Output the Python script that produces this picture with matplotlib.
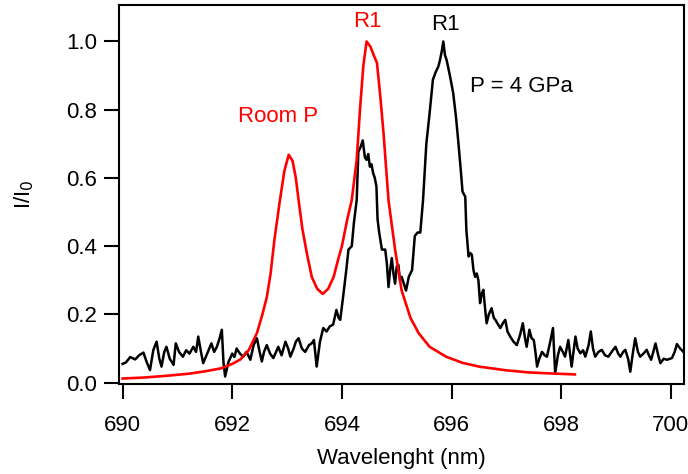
# Ruby fluorescence: room pressure vs 4 GPa

import matplotlib
matplotlib.use('Agg')
import matplotlib.pyplot as plt

plt.rcParams['font.family'] = ['Liberation Sans', 'DejaVu Sans']

# Room P spectrum (red)
room_wl = [690.0, 690.4, 690.8, 691.2, 691.5, 691.8, 692.0, 692.15, 692.3, 692.45,
           692.55, 692.63, 692.7, 692.77, 692.87, 692.95, 693.03, 693.1, 693.16, 693.21,
           693.28, 693.36, 693.45, 693.55, 693.65, 693.75, 693.85, 693.93, 694.0, 694.1,
           694.18, 694.27, 694.33, 694.39, 694.45, 694.52, 694.58, 694.64, 694.7, 694.76,
           694.85, 694.97, 695.09, 695.25, 695.4, 695.6, 695.9, 696.2, 696.5, 697.0,
           697.4, 697.8, 698.25]
room_int = [0.012, 0.015, 0.02, 0.026, 0.033, 0.042, 0.055, 0.068, 0.095, 0.145,
            0.2, 0.25, 0.32, 0.42, 0.535, 0.62, 0.668, 0.65, 0.6, 0.535,
            0.45, 0.38, 0.31, 0.275, 0.26, 0.275, 0.31, 0.36, 0.40, 0.48,
            0.535, 0.653, 0.80, 0.927, 1.0, 0.985, 0.96, 0.937, 0.84, 0.73,
            0.535, 0.39, 0.27, 0.19, 0.145, 0.105, 0.076, 0.058, 0.047, 0.036,
            0.03, 0.027, 0.024]

# 4 GPa spectrum (black)
hp_wl = [690.0, 690.06, 690.14, 690.23, 690.3, 690.38, 690.44, 690.5, 690.56, 690.62,
         690.67, 690.71, 690.76, 690.8, 690.86, 690.93, 690.97, 691.03, 691.1, 691.16,
         691.22, 691.29, 691.34, 691.38, 691.43, 691.47, 691.53, 691.58, 691.62, 691.67,
         691.72, 691.77, 691.81, 691.84, 691.87, 691.93, 692.0, 692.04, 692.08, 692.14,
         692.2, 692.26, 692.33, 692.39, 692.45, 692.5, 692.54, 692.58, 692.63, 692.69,
         692.75, 692.8, 692.84, 692.9, 692.97, 693.02, 693.06, 693.12, 693.16, 693.21,
         693.27, 693.33, 693.4, 693.45, 693.49, 693.52, 693.54, 693.6, 693.66, 693.72,
         693.78, 693.84, 693.9, 693.94, 693.97, 694.03, 694.08, 694.12, 694.18, 694.22,
         694.27, 694.3, 694.34, 694.38, 694.42, 694.45, 694.48, 694.51, 694.54, 694.57,
         694.6, 694.63, 694.65, 694.68, 694.73, 694.79, 694.82, 694.85, 694.88, 694.91,
         694.94, 694.97, 695.0, 695.03, 695.06, 695.09, 695.13, 695.17, 695.22, 695.28,
         695.33, 695.38, 695.43, 695.48, 695.54, 695.6, 695.66, 695.71, 695.76, 695.79,
         695.82, 695.85, 695.88, 695.91, 695.97, 696.03, 696.08, 696.12, 696.17, 696.2,
         696.25, 696.27, 696.31, 696.34, 696.37, 696.4, 696.43, 696.46, 696.49, 696.52,
         696.55, 696.58, 696.61, 696.64, 696.68, 696.73, 696.77, 696.8, 696.85, 696.89,
         696.94, 696.98, 697.02, 697.07, 697.13, 697.19, 697.25, 697.3, 697.34, 697.37,
         697.42, 697.46, 697.5, 697.53, 697.56, 697.6, 697.65, 697.7, 697.74, 697.8,
         697.85, 697.89, 697.94, 697.98, 698.03, 698.07, 698.13, 698.19, 698.26, 698.3,
         698.35, 698.4, 698.44, 698.5, 698.54, 698.58, 698.62, 698.68, 698.74, 698.8,
         698.86, 698.92, 698.99, 699.04, 699.08, 699.13, 699.17, 699.22, 699.26, 699.31,
         699.35, 699.4, 699.44, 699.5, 699.56, 699.6, 699.64, 699.68, 699.72, 699.77,
         699.81, 699.87, 699.93, 700.02, 700.07, 700.11, 700.17, 700.23]
hp_int = [0.055, 0.059, 0.075, 0.068, 0.08, 0.088, 0.06, 0.037, 0.095, 0.12,
          0.07, 0.047, 0.09, 0.105, 0.07, 0.052, 0.115, 0.09, 0.076, 0.095,
          0.085, 0.105, 0.09, 0.135, 0.09, 0.057, 0.08, 0.1, 0.115, 0.09,
          0.105, 0.13, 0.155, 0.06, 0.018, 0.06, 0.085, 0.075, 0.10, 0.085,
          0.076, 0.09, 0.067, 0.11, 0.13, 0.09, 0.062, 0.09, 0.11, 0.085,
          0.072, 0.09, 0.105, 0.08, 0.12, 0.1, 0.076, 0.1, 0.12, 0.13,
          0.1, 0.09, 0.11, 0.115, 0.125, 0.08, 0.047, 0.12, 0.16, 0.15,
          0.165, 0.17, 0.213, 0.19, 0.184, 0.262, 0.33, 0.39, 0.40, 0.47,
          0.535, 0.677, 0.69, 0.71, 0.66, 0.653, 0.67, 0.633, 0.64, 0.614,
          0.6, 0.575, 0.48, 0.44, 0.39, 0.39, 0.35, 0.28, 0.33, 0.365,
          0.32, 0.29, 0.34, 0.345, 0.3, 0.31, 0.29, 0.27, 0.31, 0.33,
          0.43, 0.44, 0.44, 0.535, 0.70, 0.79, 0.888, 0.91, 0.927, 0.946,
          0.97, 1.0, 0.96, 0.946, 0.9, 0.849, 0.78, 0.712, 0.62, 0.56,
          0.545, 0.448, 0.37, 0.38, 0.375, 0.33, 0.31, 0.32, 0.30, 0.233,
          0.26, 0.272, 0.22, 0.174, 0.2, 0.218, 0.19, 0.184, 0.17, 0.16,
          0.175, 0.184, 0.15, 0.135, 0.12, 0.11, 0.14, 0.174, 0.13, 0.105,
          0.155, 0.13, 0.125, 0.09, 0.047, 0.07, 0.09, 0.08, 0.076, 0.12,
          0.16, 0.028, 0.08, 0.105, 0.09, 0.076, 0.125, 0.047, 0.135, 0.1,
          0.086, 0.095, 0.076, 0.11, 0.15, 0.1, 0.076, 0.09, 0.096, 0.08,
          0.076, 0.09, 0.105, 0.085, 0.076, 0.09, 0.096, 0.07, 0.032, 0.09,
          0.13, 0.09, 0.076, 0.085, 0.096, 0.08, 0.067, 0.09, 0.115, 0.08,
          0.057, 0.07, 0.067, 0.072, 0.09, 0.113, 0.1, 0.09]

x_ticks = [690, 692, 694, 696, 698, 700]
y_ticks = [0.0, 0.2, 0.4, 0.6, 0.8, 1.0]

fig = plt.figure(figsize=(6.88, 4.74), dpi=100)
ax = fig.add_axes([0.1734, 0.1899, 0.8208, 0.7996])

ax.plot(hp_wl, hp_int, color='black', lw=1.8)
ax.plot(room_wl, room_int, color='#ff0000', lw=1.9)

ax.set_xlim(689.94, 700.24)
ax.set_ylim(-0.004, 1.107)
ax.set_xticks(x_ticks)
ax.set_yticks(y_ticks)
ax.set_yticklabels(['{:.1f}'.format(v) for v in y_ticks])

for s in ax.spines.values():
    s.set_linewidth(1.5)
ax.tick_params(direction='out', length=11, width=1.5, labelsize=16)
ax.tick_params(axis='x', pad=11)
ax.tick_params(axis='y', pad=5)

ax.set_xlabel('Wavelenght (nm)', fontsize=16, labelpad=9)
ax.set_ylabel('I/I$_0$', fontsize=16, labelpad=22)

ax.text(692.84, 0.78, 'Room P', color='#ff0000', fontsize=16, ha='center', va='center')
ax.text(694.46, 1.058, 'R1', color='#ff0000', fontsize=16, ha='center', va='center')
ax.text(695.89, 1.05, 'R1', color='black', fontsize=16, ha='center', va='center')
ax.text(696.34, 0.867, 'P = 4 GPa', color='black', fontsize=16, ha='left', va='center')

plt.savefig('out.png', dpi=100)
